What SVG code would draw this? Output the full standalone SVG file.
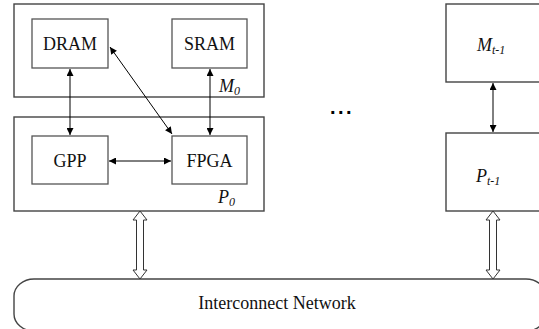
<svg xmlns="http://www.w3.org/2000/svg" width="539" height="329" viewBox="0 0 539 329">
<style>
.outer{fill:none;stroke:#444;stroke-width:1.4}
.box{fill:#fff;stroke:#555;stroke-width:1.3}
.t{font-family:"Liberation Serif","Times New Roman",serif;font-size:18px;fill:#111;text-anchor:middle}
.i{font-family:"Liberation Serif","Times New Roman",serif;font-size:18px;font-style:italic;fill:#111}
.sub{font-size:12px}
.c{stroke:#000;stroke-width:1;fill:none;marker-start:url(#ah);marker-end:url(#ah)}
.hollow{fill:#fff;stroke:#333;stroke-width:1}
</style>
<defs>
<marker id="ah" viewBox="0 0 10 10" refX="10" refY="5" markerWidth="8" markerHeight="7" markerUnits="userSpaceOnUse" orient="auto-start-reverse">
<path d="M0,0 L10,5 L0,10 Z" fill="#000"/>
</marker>
</defs>
<g id="M0">
<rect class="outer" x="14" y="4" width="250" height="93"/>
<text class="i" x="219" y="92">M<tspan class="sub" dy="3">0</tspan></text>
</g>
<g id="DRAM"><rect class="box" x="32" y="19" width="76" height="49"/><text class="t" x="70" y="50">DRAM</text></g>
<g id="SRAM"><rect class="box" x="172" y="19" width="75" height="49"/><text class="t" x="209.5" y="50">SRAM</text></g>
<g id="P0">
<rect class="outer" x="14" y="117" width="250" height="94"/>
<text class="i" x="218" y="203">P<tspan class="sub" dy="3">0</tspan></text>
</g>
<g id="GPP"><rect class="box" x="32" y="136" width="76" height="48"/><text class="t" x="70" y="167">GPP</text></g>
<g id="FPGA"><rect class="box" x="172" y="136" width="75" height="48"/><text class="t" x="209.5" y="167">FPGA</text></g>
<g id="Mt1"><rect class="outer" x="446" y="4" width="100" height="78"/><text class="i" x="477" y="51">M<tspan class="sub" dy="3">t-1</tspan></text></g>
<g id="Pt1"><rect class="outer" x="446" y="133" width="100" height="78"/><text class="i" x="476" y="182">P<tspan class="sub" dy="3">t-1</tspan></text></g>
<g id="dots"><text x="342" y="114" font-family="Liberation Sans,Arial,sans-serif" font-size="20" font-weight="bold" text-anchor="middle" letter-spacing="2.5">...</text></g>
<g id="network">
<rect class="outer" x="14" y="279" width="532" height="52" rx="20" ry="17"/>
<text class="t" x="277" y="309">Interconnect Network</text>
</g>
<g id="connectors">
<line class="c" x1="70" y1="69" x2="70" y2="135"/>
<line class="c" x1="210" y1="69" x2="210" y2="135"/>
<line class="c" x1="110" y1="47" x2="172" y2="134"/>
<line class="c" x1="109" y1="161" x2="171" y2="161"/>
<line class="c" x1="493" y1="83" x2="493" y2="132"/>
<polygon class="hollow" points="140,211 147,220 143.5,220 143.5,270 147,270 140,279 133,270 136.5,270 136.5,220 133,220"/>
<polygon class="hollow" points="493,211 500,220 496.5,220 496.5,270 500,270 493,279 486,270 489.5,270 489.5,220 486,220"/>
</g>
</svg>
